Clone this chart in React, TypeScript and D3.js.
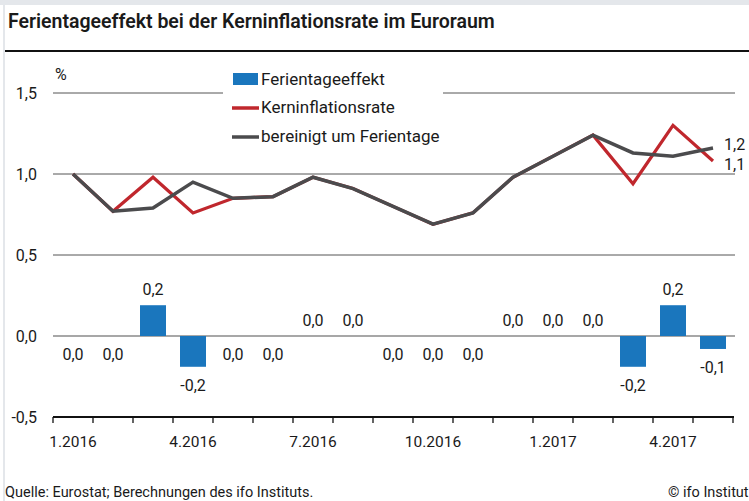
import * as d3 from "d3";

const months = [
  "1.2016", "2.2016", "3.2016", "4.2016", "5.2016", "6.2016", "7.2016", "8.2016", "9.2016",
  "10.2016", "11.2016", "12.2016", "1.2017", "2.2017", "3.2017", "4.2017", "5.2017",
];
const tickMonths = ["1.2016", "4.2016", "7.2016", "10.2016", "1.2017", "4.2017"];
// Ferientageeffekt (sign of small values decides where a "0,0" label sits)
const effect = [
  -0.004, -0.004, 0.19, -0.19, -0.004, -0.004, 0.004, 0.004, -0.004,
  -0.004, -0.004, 0.004, 0.004, 0.004, -0.19, 0.19, -0.08,
];
const kern = [
  1.0, 0.77, 0.98, 0.76, 0.85, 0.86, 0.98, 0.91, 0.8, 0.69, 0.76, 0.98, 1.11, 1.24, 0.94, 1.3, 1.08,
];
const bereinigt = [
  1.0, 0.77, 0.79, 0.95, 0.85, 0.86, 0.98, 0.91, 0.8, 0.69, 0.76, 0.98, 1.11, 1.24, 1.13, 1.11, 1.16,
];
const yTicks = [1.5, 1.0, 0.5, 0.0, -0.5];

const W = 749;
const H = 501;
const FONT = "Roboto, 'Open Sans', sans-serif";
const BLUE = "#1a76bd";
const RED = "#c0272d";
const GRAY = "#4b4b4d";
const TEXT = "#1a1a1a";

const fmt = (v: number) =>
  Math.abs(v) < 0.05 ? "0,0" : d3.format(".1f")(v).replace(".", ",").replace("−", "-");

export default function App() {
  const x = d3.scaleBand<string>().domain(months).range([53, 733]).paddingInner(0.35).paddingOuter(0.175);
  const band = d3.scaleBand<string>().domain(months).range([53, 733]);
  const cx = (m: string) => (band(m) ?? 0) + band.bandwidth() / 2;
  const y = d3.scaleLinear().domain([-0.5, 1.5]).range([417, 93]);

  const line = d3
    .line<number>()
    .x((_, i) => cx(months[i]))
    .y((d) => y(d));

  const tickEdges = d3.range(months.length + 1).map((i) => 53 + i * band.bandwidth());

  return (
    <svg
      width={W}
      height={H}
      style={{ position: "fixed", left: 0, top: 0, background: "#fff" }}
      fontFamily={FONT}
    >
      <rect x={0} y={0} width={W} height={5} fill="#e4e7eb" />
      <rect x={3} y={5} width={2} height={H - 5} fill="#e4e7eb" />
      <text x={8} y={28} fontSize={19.5} fontWeight={600} fill={TEXT}>
        Ferientageeffekt bei der Kerninflationsrate im Euroraum
      </text>
      <rect x={5} y={50} width={W - 5} height={2} fill="#111" />

      {/* gridlines */}
      {yTicks
        .filter((t) => t > 0)
        .map((t) =>
          t === 1.5 ? (
            <g key={t}>
              <line x1={53} x2={223} y1={y(t)} y2={y(t)} stroke="#555" strokeWidth={1} />
              <line x1={443} x2={735} y1={y(t)} y2={y(t)} stroke="#555" strokeWidth={1} />
            </g>
          ) : (
            <line key={t} x1={53} x2={735} y1={y(t)} y2={y(t)} stroke="#555" strokeWidth={1} />
          )
        )}
      <line x1={53} x2={735} y1={y(0)} y2={y(0)} stroke="#8a8a8a" strokeWidth={1.5} />

      {yTicks.map((t) => (
        <text key={t} x={37} y={y(t)} dy="0.35em" textAnchor="end" fontSize={16} fill={TEXT}>
          {fmt(t)}
        </text>
      ))}
      <text x={55} y={80} fontSize={16} fill={TEXT}>%</text>

      {/* bars */}
      {months.map((m, i) =>
        Math.abs(effect[i]) < 0.05 ? null : (
          <rect
            key={m}
            x={x(m)}
            width={x.bandwidth()}
            y={y(Math.max(0, effect[i]))}
            height={Math.abs(y(effect[i]) - y(0))}
            fill={BLUE}
          />
        )
      )}
      {months.map((m, i) => {
        const v = effect[i];
        const base = y(Math.abs(v) < 0.05 ? 0 : v);
        const yy = v >= 0 ? base - 10 : base + 24;
        return (
          <text key={m} x={cx(m)} y={yy} textAnchor="middle" fontSize={16} fill={TEXT}>
            {fmt(v)}
          </text>
        );
      })}

      {/* lines */}
      <path d={line(kern) ?? ""} fill="none" stroke={RED} strokeWidth={3.2} />
      <path d={line(bereinigt) ?? ""} fill="none" stroke={GRAY} strokeWidth={3.5} />
      <text x={724} y={y(bereinigt[bereinigt.length - 1]) + 2} fontSize={16} fill={TEXT}>
        {fmt(bereinigt[bereinigt.length - 1])}
      </text>
      <text x={724} y={y(kern[kern.length - 1]) - 2} dy="0.7em" fontSize={16} fill={TEXT}>
        {fmt(kern[kern.length - 1])}
      </text>

      {/* x axis */}
      <line x1={53} x2={734} y1={y(-0.5)} y2={y(-0.5)} stroke="#111" strokeWidth={2} />
      {tickEdges.map((e, i) => (
        <line key={i} x1={e} x2={e} y1={y(-0.5)} y2={y(-0.5) + 6} stroke="#111" strokeWidth={1.3} />
      ))}
      {tickMonths.map((m) => (
        <text key={m} x={cx(m)} y={447} textAnchor="middle" fontSize={15.5} fill={TEXT}>
          {m}
        </text>
      ))}

      {/* legend */}
      <rect x={233} y={73} width={25} height={12} fill={BLUE} />
      <text x={261} y={85} fontSize={17} fill={TEXT}>Ferientageeffekt</text>
      <line x1={232} x2={259} y1={108} y2={108} stroke={RED} strokeWidth={3.5} />
      <text x={261} y={113} fontSize={17} fill={TEXT}>Kerninflationsrate</text>
      <line x1={232} x2={259} y1={137} y2={137} stroke={GRAY} strokeWidth={3.5} />
      <text x={261} y={142} fontSize={17} fill={TEXT}>bereinigt um Ferientage</text>

      {/* footer */}
      <text x={5} y={497} fontSize={14.5} fill={TEXT}>
        Quelle: Eurostat; Berechnungen des ifo Instituts.
      </text>
      <text x={668} y={497} fontSize={14.5} fill={TEXT}>
        © ifo Institut
      </text>
    </svg>
  );
}
